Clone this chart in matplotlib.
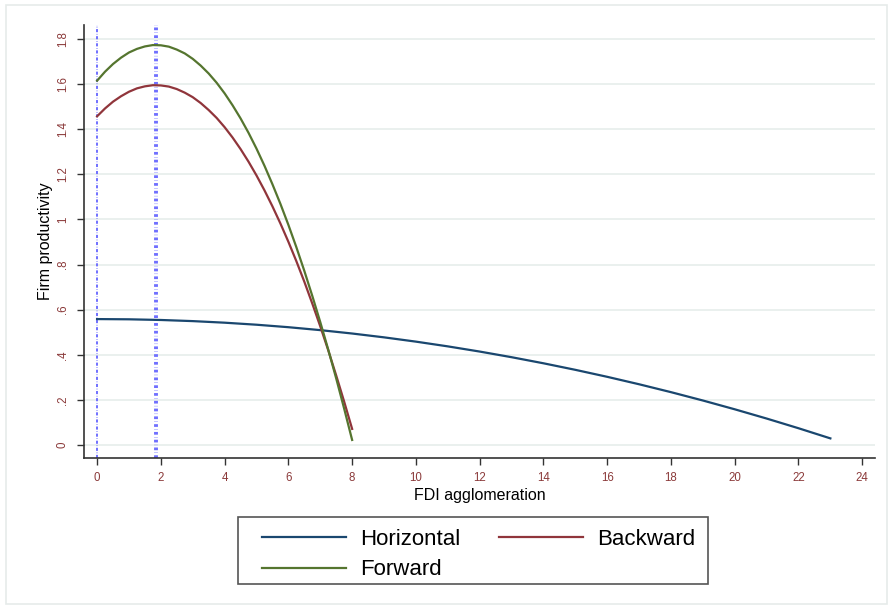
import matplotlib
matplotlib.use("Agg")
import matplotlib.pyplot as plt
from matplotlib.patches import Rectangle

plt.rcParams["font.family"] = ["Liberation Sans", "DejaVu Sans"]

# values
x_horizontal = list(range(0, 24))
y_horizontal = [0.558, 0.557, 0.554, 0.549, 0.542, 0.533, 0.522, 0.509,
                0.494, 0.477, 0.458, 0.437, 0.414, 0.389, 0.362, 0.333,
                0.302, 0.269, 0.234, 0.197, 0.158, 0.117, 0.074, 0.029]

x_short = [0, 0.25, 0.5, 0.75, 1, 1.25, 1.5, 1.75, 2, 2.25, 2.5, 2.75,
           3, 3.25, 3.5, 3.75, 4, 4.25, 4.5, 4.75, 5, 5.25, 5.5, 5.75,
           6, 6.25, 6.5, 6.75, 7, 7.25, 7.5, 7.75, 8]
y_backward = [1.457, 1.492, 1.522, 1.546, 1.566, 1.581, 1.590, 1.595,
              1.594, 1.589, 1.578, 1.562, 1.542, 1.516, 1.485, 1.450,
              1.409, 1.363, 1.312, 1.256, 1.195, 1.129, 1.058, 0.982,
              0.901, 0.815, 0.724, 0.627, 0.526, 0.420, 0.308, 0.192, 0.071]
y_forward = [1.615, 1.655, 1.689, 1.717, 1.740, 1.756, 1.767, 1.773,
             1.772, 1.766, 1.753, 1.736, 1.712, 1.682, 1.647, 1.606,
             1.559, 1.506, 1.448, 1.384, 1.314, 1.238, 1.156, 1.069,
             0.976, 0.877, 0.772, 0.661, 0.545, 0.423, 0.295, 0.161, 0.022]

vline_min = 0
vline_peak = 1.85

x_ticks = list(range(0, 25, 2))
y_ticks = [0, 0.2, 0.4, 0.6, 0.8, 1, 1.2, 1.4, 1.6, 1.8]
y_ticklabels = ["0", ".2", ".4", ".6", ".8", "1", "1.2", "1.4", "1.6", "1.8"]

tick_color = "#8b3a3a"

fig = plt.figure(figsize=(8.93, 6.09), dpi=100)
# outer light frame and legend box
fig.patches.append(Rectangle((6 / 893, 5 / 609), 881 / 893, 599 / 609,
                             transform=fig.transFigure, fill=False,
                             edgecolor="#e6ebea", linewidth=1.2))
fig.patches.append(Rectangle((238 / 893, 1 - 584 / 609), 470 / 893, 67 / 609,
                             transform=fig.transFigure, fill=False,
                             edgecolor="#555555", linewidth=1.2))
ax = fig.add_axes([84 / 893, 1 - 458 / 609, 791 / 893, 433 / 609])

ax.grid(axis="y", color="#e6eeeb", linewidth=1.2)
ax.set_axisbelow(True)

ax.axvline(vline_min, color="#7070ff", linestyle=(0, (1.6, 0.9, 0.25, 0.9)), linewidth=1.4)
ax.axvline(vline_peak, color="#6f6fff", linestyle=(0, (0.7, 0.6, 0.1, 0.6)), linewidth=2.8)

ax.plot(x_horizontal, y_horizontal, color="#1a476f", linewidth=1.6, label="Horizontal")
ax.plot(x_short, y_backward, color="#90353b", linewidth=1.6, label="Backward")
ax.plot(x_short, y_forward, color="#55752f", linewidth=1.6, label="Forward")

ax.set_xlim(-0.41, 24.4)
ax.set_ylim(-0.058, 1.862)
ax.set_xticks(x_ticks)
ax.set_yticks(y_ticks)
ax.set_yticklabels(y_ticklabels, rotation=90, va="center")
ax.tick_params(axis="both", labelsize=8.3, labelcolor=tick_color, color="#333333",
               length=5, width=1)
ax.tick_params(axis="x", pad=5)
ax.tick_params(axis="y", pad=6)

for side in ["top", "right"]:
    ax.spines[side].set_visible(False)
for side in ["left", "bottom"]:
    ax.spines[side].set_color("#333333")
    ax.spines[side].set_linewidth(1.2)

ax.set_xlabel("FDI agglomeration", fontsize=11.5, labelpad=3)
ax.set_ylabel("Firm productivity", fontsize=11.5, labelpad=3)

handles, labels = ax.get_legend_handles_labels()
order = [0, 2, 1]
leg = fig.legend([handles[i] for i in order], [labels[i] for i in order],
                 loc="upper left", bbox_to_anchor=(262 / 893, 1 - 529 / 609),
                 ncol=2, fontsize=16, handlelength=3.8, columnspacing=1.75,
                 labelspacing=0.42, borderpad=0, borderaxespad=0,
                 handletextpad=0.6, frameon=False)

fig.savefig("out.png", dpi=100)
